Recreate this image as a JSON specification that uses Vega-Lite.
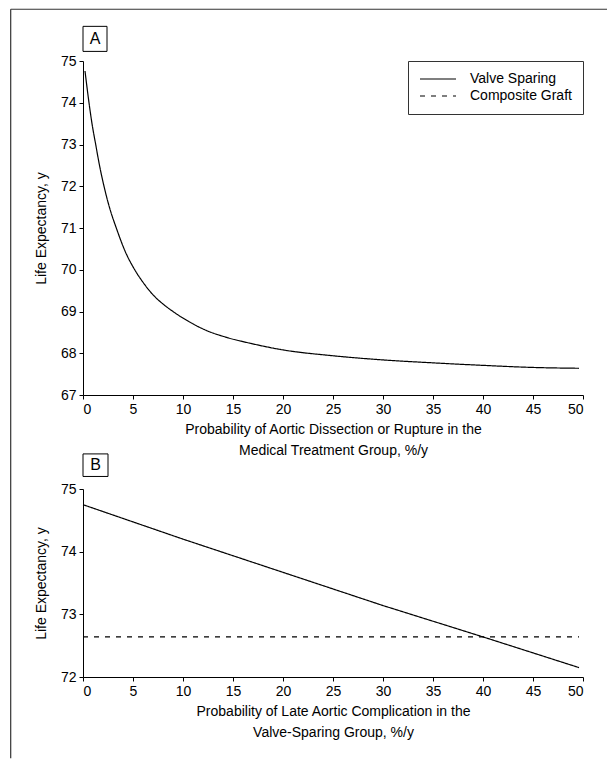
{
  "$schema": "https://vega.github.io/schema/vega-lite/v6.json",
  "background": "white",
  "padding": {"left": 10, "top": 8, "right": 0, "bottom": 0},
  "bounds": "flush",
  "spacing": 94,
  "config": {
    "font": "Liberation Sans",
    "view": {"stroke": null},
    "axis": {
      "grid": false,
      "domainColor": "black",
      "tickColor": "black",
      "labelColor": "black",
      "titleColor": "black",
      "labelFont": "Liberation Sans",
      "titleFont": "Liberation Sans",
      "labelFontSize": 14,
      "titleFontSize": 14,
      "titleFontWeight": "normal",
      "tickSize": 4,
      "labelPadding": 3
    },
    "legend": {
      "labelFont": "Liberation Sans",
      "labelFontSize": 14,
      "labelColor": "black"
    }
  },
  "datasets": {
    "panelA": [
      {"p": 0.2, "le": 74.76, "series": "Valve Sparing"},
      {"p": 0.6, "le": 74.0, "series": "Valve Sparing"},
      {"p": 0.9, "le": 73.5, "series": "Valve Sparing"},
      {"p": 1.27, "le": 73.0, "series": "Valve Sparing"},
      {"p": 1.65, "le": 72.5, "series": "Valve Sparing"},
      {"p": 2.1, "le": 72.0, "series": "Valve Sparing"},
      {"p": 2.7, "le": 71.45, "series": "Valve Sparing"},
      {"p": 3.33, "le": 71.0, "series": "Valve Sparing"},
      {"p": 4.2, "le": 70.45, "series": "Valve Sparing"},
      {"p": 5.17, "le": 70.0, "series": "Valve Sparing"},
      {"p": 6.0, "le": 69.7, "series": "Valve Sparing"},
      {"p": 7.0, "le": 69.4, "series": "Valve Sparing"},
      {"p": 8.0, "le": 69.18, "series": "Valve Sparing"},
      {"p": 9.0, "le": 69.0, "series": "Valve Sparing"},
      {"p": 10.5, "le": 68.77, "series": "Valve Sparing"},
      {"p": 12.3, "le": 68.55, "series": "Valve Sparing"},
      {"p": 14.5, "le": 68.37, "series": "Valve Sparing"},
      {"p": 16.7, "le": 68.24, "series": "Valve Sparing"},
      {"p": 20, "le": 68.08, "series": "Valve Sparing"},
      {"p": 25, "le": 67.94, "series": "Valve Sparing"},
      {"p": 30, "le": 67.84, "series": "Valve Sparing"},
      {"p": 35, "le": 67.77, "series": "Valve Sparing"},
      {"p": 40, "le": 67.71, "series": "Valve Sparing"},
      {"p": 45, "le": 67.66, "series": "Valve Sparing"},
      {"p": 49.6, "le": 67.64, "series": "Valve Sparing"}
    ],
    "panelB": [
      {"p": 0, "le": 74.75, "series": "Valve Sparing"},
      {"p": 10, "le": 74.2, "series": "Valve Sparing"},
      {"p": 20, "le": 73.67, "series": "Valve Sparing"},
      {"p": 30, "le": 73.14, "series": "Valve Sparing"},
      {"p": 40, "le": 72.64, "series": "Valve Sparing"},
      {"p": 49.6, "le": 72.15, "series": "Valve Sparing"},
      {"p": 0, "le": 72.64, "series": "Composite Graft"},
      {"p": 49.6, "le": 72.64, "series": "Composite Graft"}
    ]
  },
  "resolve": {
    "scale": {"x": "independent", "y": "independent", "strokeDash": "independent"},
    "legend": {"strokeDash": "independent"}
  },
  "vconcat": [
    {
      "width": 500,
      "height": 334,
      "layer": [
        {
          "data": {"name": "panelA"},
          "mark": {"type": "line", "color": "black", "strokeWidth": 1.2, "interpolate": "monotone"},
          "encoding": {
            "x": {
              "field": "p", "type": "quantitative",
              "scale": {"domain": [0, 50], "nice": false},
              "axis": {
                "values": [0, 5, 10, 15, 20, 25, 30, 35, 40, 45, 50],
                "title": ["Probability of Aortic Dissection or Rupture in the", "Medical Treatment Group, %/y"],
                "titlePadding": 6,
                "titleLineHeight": 21
              }
            },
            "y": {
              "field": "le", "type": "quantitative",
              "scale": {"domain": [67, 75], "nice": false, "zero": false},
              "axis": {
                "values": [67, 68, 69, 70, 71, 72, 73, 74, 75],
                "format": "d",
                "title": "Life Expectancy, y",
                "titlePadding": 12
              }
            },
            "strokeDash": {
              "field": "series", "type": "nominal",
              "scale": {"domain": ["Valve Sparing", "Composite Graft"], "range": [[1, 0], [5, 6]]},
              "legend": {
                "title": null,
                "orient": "top-right",
                "offset": 0,
                "strokeColor": "#333333",
                "fillColor": "white",
                "padding": 11,
                "symbolType": "M-1,0H5",
                "symbolSize": 144,
                "symbolStrokeColor": "black",
                "symbolStrokeWidth": 1.2,
                "labelOffset": 37,
                "rowPadding": 3
              }
            }
          }
        },
        {
          "data": {"values": [{}]},
          "mark": {"type": "rule", "color": "#333333", "strokeWidth": 1.2},
          "encoding": {
            "x": {"datum": -7.23},
            "y": {"datum": 76.24},
            "y2": {"datum": 58.3}
          }
        },
        {
          "data": {"values": [{}]},
          "mark": {"type": "rule", "color": "#333333", "strokeWidth": 1.2},
          "encoding": {
            "x": {"datum": -7.23},
            "x2": {"datum": 52.4},
            "y": {"datum": 76.24}
          }
        },
        {
          "data": {"values": [{}]},
          "mark": {"type": "rect", "fill": "white", "stroke": "black", "strokeWidth": 1},
          "encoding": {
            "x": {"datum": 0},
            "x2": {"datum": 2.4},
            "y": {"datum": 75.23},
            "y2": {"datum": 75.83}
          }
        },
        {
          "data": {"values": [{}]},
          "mark": {"type": "text", "fontSize": 16, "color": "black", "align": "center", "baseline": "middle"},
          "encoding": {
            "x": {"datum": 1.2},
            "y": {"datum": 75.53},
            "text": {"value": "A"}
          }
        }
      ]
    },
    {
      "width": 500,
      "height": 188,
      "layer": [
        {
          "data": {"name": "panelB"},
          "mark": {"type": "line", "color": "black", "strokeWidth": 1.2},
          "encoding": {
            "x": {
              "field": "p", "type": "quantitative",
              "scale": {"domain": [0, 50], "nice": false},
              "axis": {
                "values": [0, 5, 10, 15, 20, 25, 30, 35, 40, 45, 50],
                "title": ["Probability of Late Aortic Complication in the", "Valve-Sparing Group, %/y"],
                "titlePadding": 6,
                "titleLineHeight": 21
              }
            },
            "y": {
              "field": "le", "type": "quantitative",
              "scale": {"domain": [72, 75], "nice": false, "zero": false},
              "axis": {
                "values": [72, 73, 74, 75],
                "format": "d",
                "title": "Life Expectancy, y",
                "titlePadding": 12
              }
            },
            "strokeDash": {
              "field": "series", "type": "nominal",
              "scale": {"domain": ["Valve Sparing", "Composite Graft"], "range": [[1, 0], [5, 6]]},
              "legend": null
            }
          }
        },
        {
          "data": {"values": [{}]},
          "mark": {"type": "rect", "fill": "white", "stroke": "black", "strokeWidth": 1},
          "encoding": {
            "x": {"datum": 0},
            "x2": {"datum": 2.5},
            "y": {"datum": 75.2},
            "y2": {"datum": 75.56}
          }
        },
        {
          "data": {"values": [{}]},
          "mark": {"type": "text", "fontSize": 16, "color": "black", "align": "center", "baseline": "middle"},
          "encoding": {
            "x": {"datum": 1.25},
            "y": {"datum": 75.38},
            "text": {"value": "B"}
          }
        }
      ]
    }
  ]
}
